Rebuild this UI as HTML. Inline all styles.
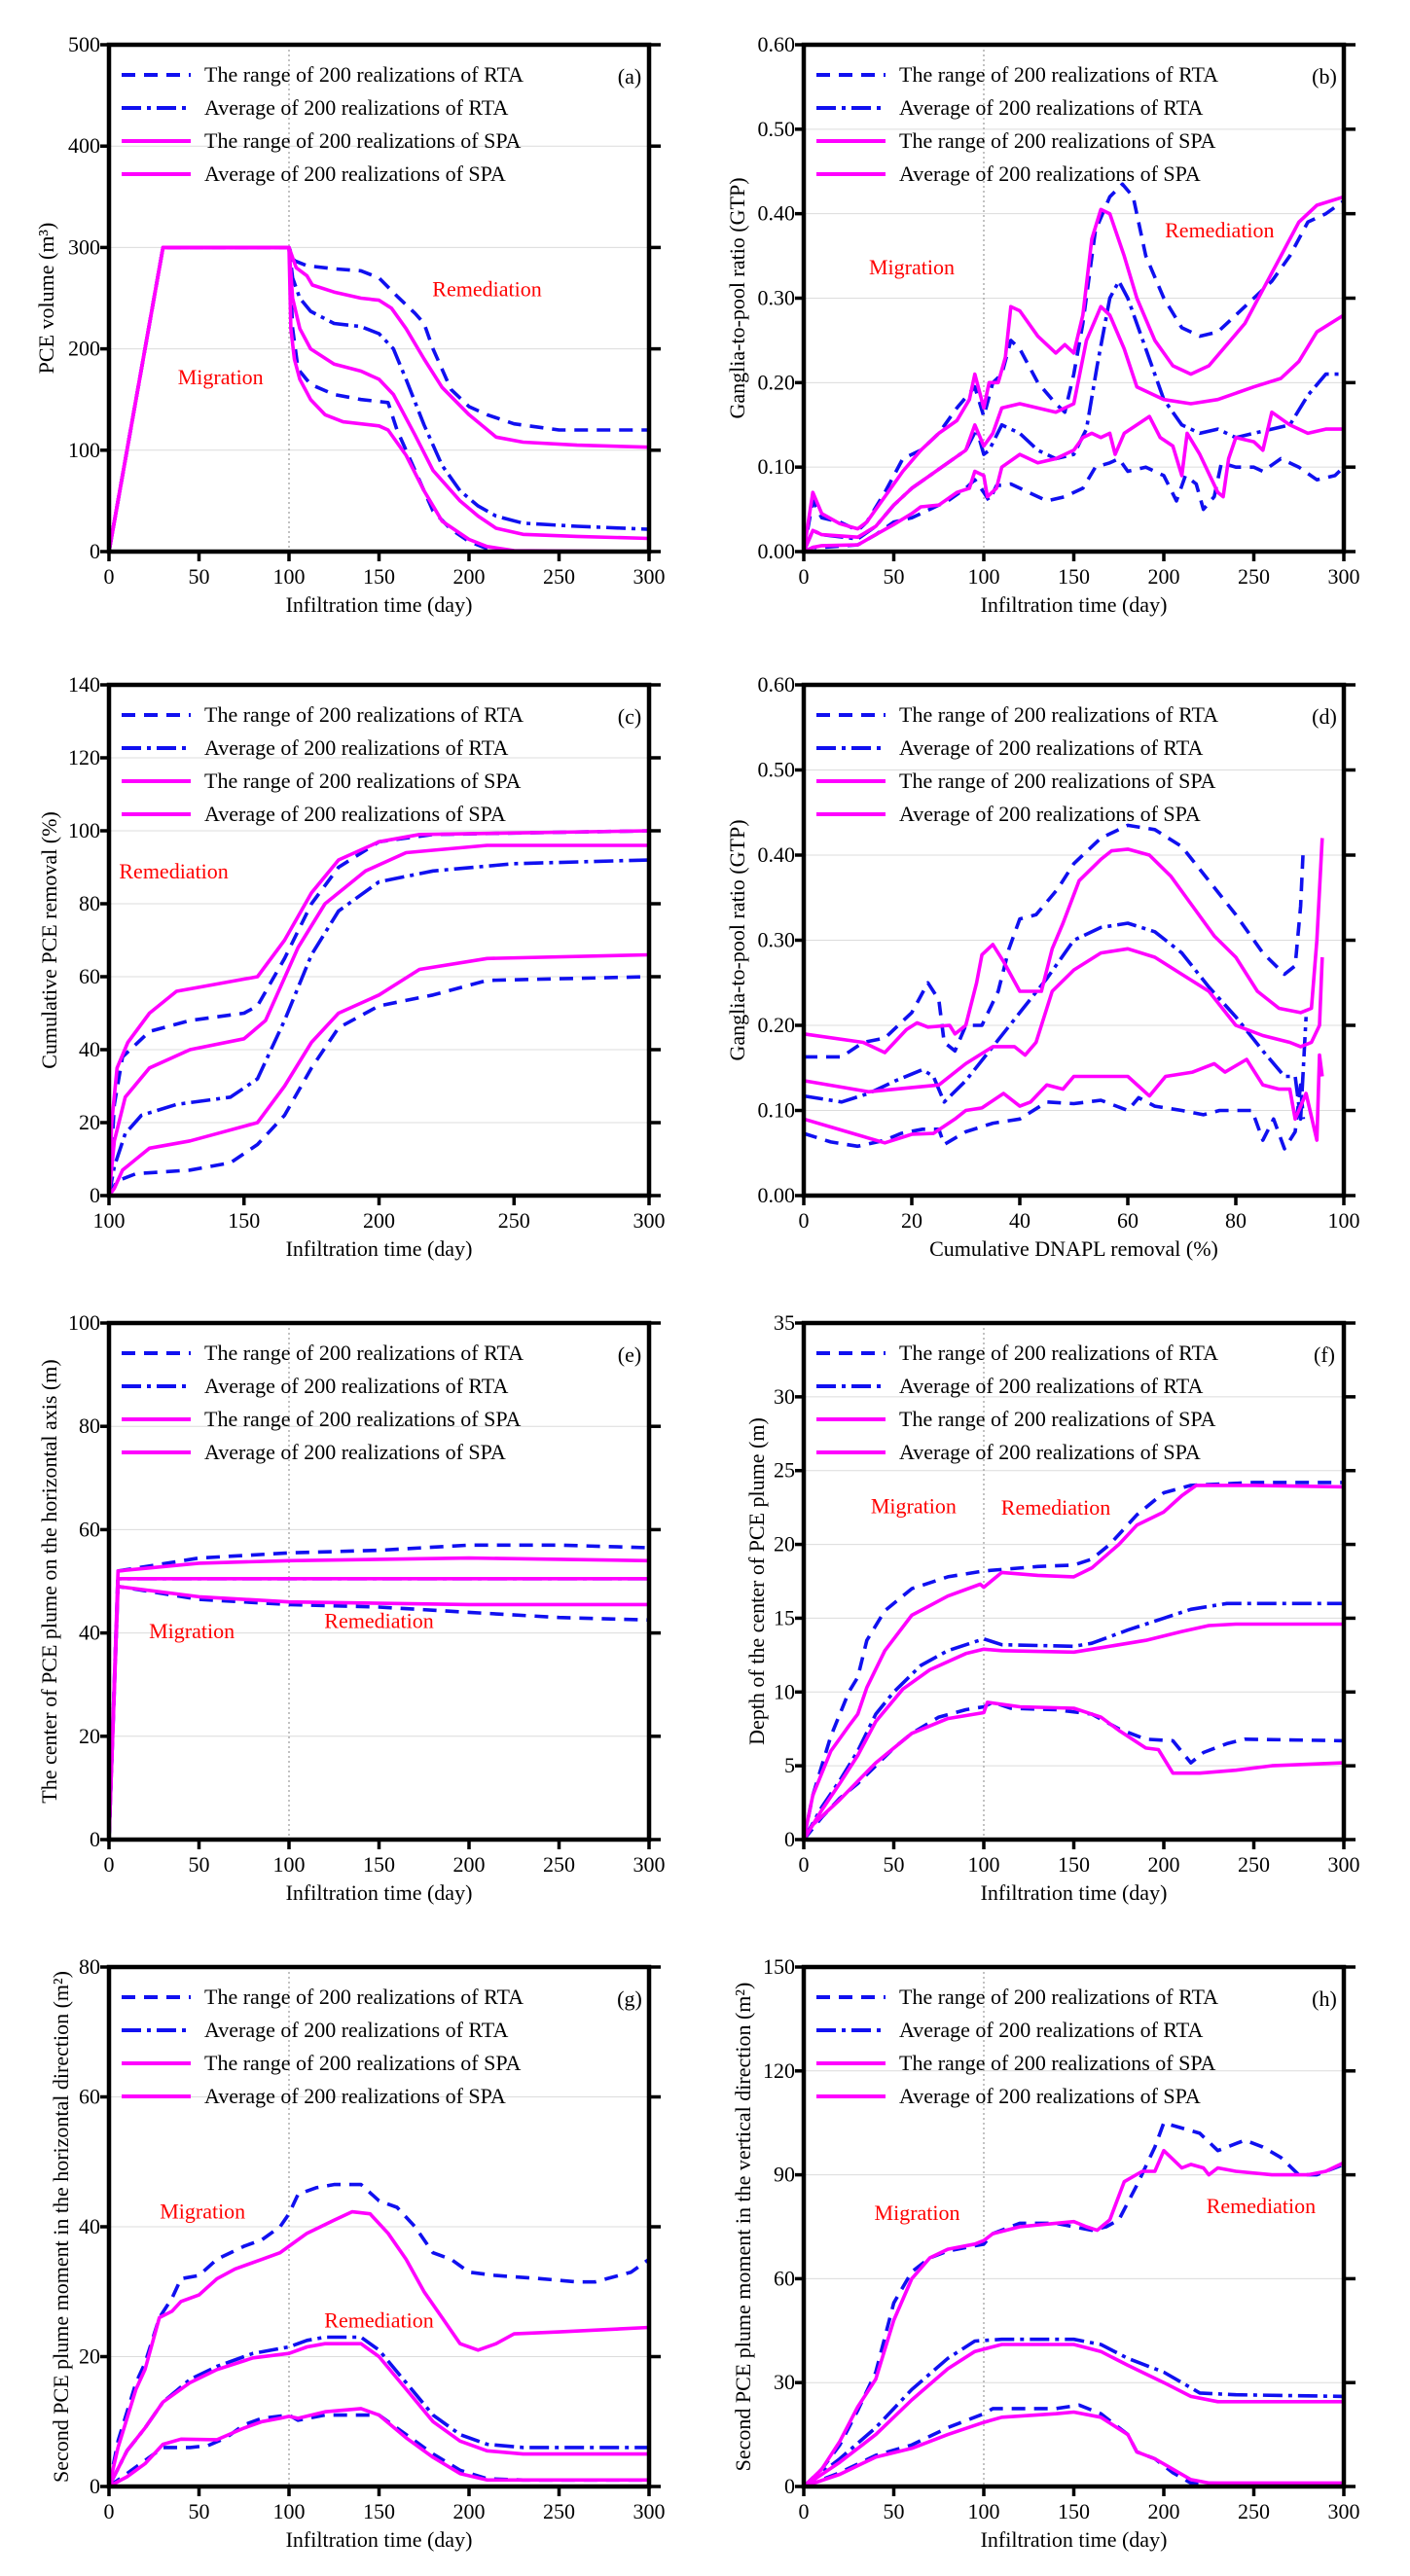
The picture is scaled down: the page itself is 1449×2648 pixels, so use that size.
<!DOCTYPE html>
<html><head><meta charset="utf-8">
<style>
html,body{margin:0;padding:0;background:#fff;}
svg{display:block;font-family:"Liberation Serif",serif;}
</style></head>
<body>
<svg id="fig" width="1449" height="2648" viewBox="0 0 1449 2648" xmlns="http://www.w3.org/2000/svg"></svg>
<script>
// ---------- Panel (a) data ----------
const aRtaUp=[[0,0],[30,300],[100,300],[103,287],[110,282],[125,279],[140,277],[150,270],[160,252],[170,235],[175,225],[180,200],[190,160],[200,143],[210,135],[225,126],[250,120],[300,120]];
const aRtaLo=[[0,0],[30,300],[100,300],[102,220],[105,180],[112,165],[125,155],[140,150],[155,147],[160,120],[170,80],[180,40],[190,22],[200,10],[210,3],[225,0],[300,0]];
const aRtaAvg=[[0,0],[30,300],[100,300],[102,270],[106,250],[112,237],[125,225],[140,222],[150,215],[158,200],[165,170],[175,125],[185,85],[195,60],[205,45],[215,35],[230,28],[260,25],[300,22]];
const aSpaUp=[[0,0],[30,300],[100,300],[104,280],[110,272],[113,263],[125,256],[140,250],[150,248],[157,240],[165,220],[175,190],[185,162],[200,135],[215,113],[230,108],[260,105],[300,103]];
const aSpaLo=[[0,0],[30,300],[100,300],[101,220],[103,190],[106,170],[112,150],[120,135],[130,128],[150,124],[155,120],[165,95],[175,60],[185,30],[200,12],[210,5],[225,1],[300,0]];
const aSpaAvg=[[0,0],[30,300],[100,300],[102,250],[106,220],[112,200],[125,185],[140,178],[150,170],[158,155],[170,115],[180,80],[195,50],[205,35],[215,23],[230,17],[260,15],[300,13]];
// ---------- Panel (b) data ----------
const bRtaUp=[[0,0],[5,0.06],[10,0.04],[20,0.035],[30,0.025],[35,0.035],[45,0.07],[55,0.11],[65,0.12],[75,0.14],[85,0.17],[95,0.195],[100,0.16],[105,0.20],[110,0.21],[115,0.25],[120,0.24],[130,0.20],[140,0.175],[145,0.165],[150,0.21],[155,0.27],[162,0.38],[170,0.42],[177,0.435],[183,0.42],[190,0.35],[200,0.3],[210,0.265],[220,0.255],[230,0.26],[240,0.28],[250,0.3],[260,0.32],[270,0.35],[280,0.39],[290,0.4],[300,0.415]];
const bRtaLo=[[0,0],[5,0.005],[10,0.005],[30,0.008],[40,0.02],[50,0.035],[60,0.04],[70,0.05],[80,0.06],[90,0.075],[95,0.085],[100,0.07],[103,0.06],[107,0.078],[115,0.08],[125,0.07],[135,0.06],[145,0.065],[155,0.075],[162,0.10],[170,0.105],[175,0.11],[180,0.095],[190,0.1],[200,0.09],[207,0.06],[212,0.09],[218,0.08],[222,0.05],[228,0.065],[232,0.105],[240,0.1],[250,0.1],[255,0.095],[265,0.11],[275,0.1],[285,0.085],[295,0.09],[300,0.1]];
const bRtaAvg=[[0,0],[5,0.025],[10,0.02],[30,0.015],[40,0.03],[50,0.055],[60,0.075],[70,0.09],[80,0.105],[90,0.12],[96,0.145],[100,0.115],[103,0.12],[110,0.15],[120,0.14],[130,0.12],[140,0.11],[150,0.115],[157,0.145],[163,0.22],[170,0.3],[175,0.32],[180,0.3],[190,0.24],[200,0.18],[210,0.15],[220,0.14],[230,0.145],[240,0.135],[250,0.14],[260,0.145],[270,0.15],[280,0.185],[290,0.21],[300,0.21]];
const bSpaUp=[[0,0],[5,0.07],[10,0.045],[20,0.033],[30,0.027],[35,0.035],[45,0.065],[55,0.095],[65,0.12],[75,0.14],[85,0.155],[92,0.18],[95,0.21],[100,0.17],[103,0.2],[108,0.2],[112,0.23],[115,0.29],[120,0.285],[130,0.255],[140,0.235],[145,0.245],[150,0.235],[155,0.28],[160,0.37],[165,0.405],[170,0.4],[178,0.35],[185,0.3],[195,0.25],[205,0.22],[215,0.21],[225,0.22],[235,0.245],[245,0.27],[255,0.31],[265,0.35],[275,0.39],[285,0.41],[300,0.42]];
const bSpaLo=[[0,0],[5,0.005],[10,0.007],[30,0.008],[40,0.02],[50,0.032],[60,0.045],[65,0.053],[75,0.055],[85,0.07],[92,0.075],[95,0.095],[100,0.09],[102,0.065],[107,0.075],[110,0.1],[120,0.115],[130,0.105],[140,0.11],[150,0.12],[155,0.135],[160,0.14],[165,0.135],[170,0.14],[173,0.115],[178,0.14],[185,0.15],[192,0.16],[198,0.135],[205,0.125],[210,0.09],[213,0.14],[220,0.115],[230,0.07],[233,0.065],[236,0.11],[240,0.135],[250,0.13],[255,0.12],[260,0.165],[270,0.15],[280,0.14],[290,0.145],[300,0.145]];
const bSpaAvg=[[0,0],[5,0.025],[10,0.02],[30,0.017],[40,0.03],[50,0.055],[60,0.075],[70,0.09],[80,0.105],[90,0.12],[95,0.15],[100,0.125],[105,0.14],[110,0.17],[120,0.175],[130,0.17],[140,0.165],[150,0.175],[157,0.25],[165,0.29],[170,0.28],[178,0.24],[185,0.195],[200,0.18],[215,0.175],[230,0.18],[250,0.195],[265,0.205],[275,0.225],[285,0.26],[300,0.28]];
// ---------- Panel (c) data ----------
const cRtaUp=[[100,0],[102,25],[105,38],[115,45],[130,48],[150,50],[155,52],[165,65],[175,80],[185,90],[200,97],[220,99],[300,100]];
const cRtaLo=[[100,0],[103,4],[110,6],[130,7],[145,9],[155,14],[165,22],[175,35],[185,46],[200,52],[220,55],[240,59],[300,60]];
const cRtaAvg=[[100,0],[102,8],[106,17],[112,22],[125,25],[145,27],[155,32],[165,48],[175,66],[185,78],[200,86],[220,89],[250,91],[300,92]];
const cSpaUp=[[100,0],[101,20],[103,35],[107,42],[115,50],[125,56],[140,58],[155,60],[165,70],[175,83],[185,92],[200,97],[215,99],[300,100]];
const cSpaLo=[[100,0],[102,2],[105,7],[110,10],[115,13],[130,15],[140,17],[155,20],[165,30],[175,42],[185,50],[200,55],[215,62],[240,65],[300,66]];
const cSpaAvg=[[100,0],[102,15],[106,27],[115,35],[130,40],[150,43],[158,48],[170,68],[180,80],[195,89],[210,94],[240,96],[300,96]];
// ---------- Panel (d) data ----------
const dRtaUp=[[0,0.163],[7,0.163],[11,0.18],[15,0.185],[20,0.215],[23,0.25],[25,0.23],[26,0.18],[28,0.17],[30,0.2],[33,0.2],[36,0.24],[38,0.29],[40,0.325],[43,0.33],[47,0.36],[50,0.39],[55,0.42],[60,0.435],[65,0.43],[70,0.41],[75,0.37],[80,0.33],[85,0.285],[89,0.26],[91,0.27],[92,0.34],[92.5,0.41]];
const dRtaLo=[[0,0.073],[5,0.063],[10,0.058],[15,0.065],[18,0.073],[22,0.078],[25,0.078],[26,0.06],[30,0.075],[35,0.085],[40,0.09],[45,0.11],[50,0.108],[55,0.112],[60,0.1],[62,0.115],[65,0.105],[70,0.1],[74,0.095],[77,0.1],[80,0.1],[83,0.1],[85,0.065],[87,0.09],[89,0.055],[91,0.075],[92,0.13],[92.5,0.09]];
const dRtaAvg=[[0,0.117],[7,0.11],[12,0.12],[17,0.135],[22,0.148],[24,0.14],[26,0.11],[30,0.135],[35,0.175],[40,0.215],[45,0.255],[50,0.3],[55,0.315],[60,0.32],[65,0.31],[70,0.285],[75,0.245],[80,0.21],[85,0.17],[89,0.14],[91,0.14],[92,0.09],[93,0.21]];
const dSpaUp=[[0,0.19],[11,0.18],[15,0.168],[19,0.195],[21,0.203],[23,0.198],[27,0.2],[28,0.19],[30,0.2],[32,0.25],[33,0.283],[35,0.295],[37,0.275],[40,0.24],[42,0.24],[44,0.24],[46,0.29],[48,0.32],[51,0.37],[55,0.395],[57,0.405],[60,0.407],[64,0.4],[68,0.375],[72,0.34],[76,0.305],[80,0.28],[84,0.24],[88,0.22],[92,0.215],[94,0.22],[95,0.3],[96,0.42]];
const dSpaLo=[[0,0.09],[8,0.075],[15,0.062],[20,0.072],[24,0.073],[28,0.09],[30,0.1],[33,0.103],[37,0.12],[40,0.105],[42,0.11],[45,0.13],[48,0.125],[50,0.14],[55,0.14],[60,0.14],[64,0.117],[67,0.14],[72,0.145],[76,0.155],[78,0.145],[82,0.16],[85,0.13],[88,0.125],[90,0.125],[91,0.09],[93,0.12],[95,0.065],[95.5,0.165],[96,0.14]];
const dSpaAvg=[[0,0.135],[12,0.122],[20,0.127],[25,0.13],[30,0.155],[35,0.175],[39,0.175],[41,0.165],[43,0.18],[46,0.24],[50,0.265],[55,0.285],[60,0.29],[65,0.28],[70,0.26],[75,0.24],[80,0.2],[85,0.188],[90,0.18],[92,0.175],[94,0.18],[95.5,0.2],[96,0.28]];
// ---------- Panel (e) data ----------
const eRtaUp=[[0,0],[5,52],[50,54.5],[100,55.5],[150,56],[200,57],[250,57],[300,56.5]];
const eRtaLo=[[0,0],[5,49],[50,46.5],[100,45.5],[150,45],[200,44],[250,43],[300,42.5]];
const eRtaAvg=[[0,0],[5,50.5],[300,50.5]];
const eSpaUp=[[0,0],[5,52],[50,53.5],[100,54],[200,54.5],[300,54]];
const eSpaLo=[[0,0],[5,49],[50,47],[100,46],[200,45.5],[300,45.5]];
const eSpaAvg=[[0,0],[5,50.5],[300,50.5]];
// ---------- Panel (f) data ----------
const fRtaUp=[[0,0],[5,3],[15,7],[25,10],[30,11],[35,13.5],[45,15.5],[60,17],[80,17.8],[100,18.2],[130,18.5],[150,18.6],[160,19],[170,20],[185,22],[200,23.5],[215,24],[250,24.2],[300,24.2]];
const fRtaLo=[[0,0],[10,1.5],[20,2.8],[30,3.8],[40,5],[50,6.2],[60,7.2],[75,8.3],[90,8.8],[100,9],[105,9.3],[115,8.9],[140,8.8],[160,8.5],[175,7.5],[190,6.8],[205,6.7],[215,5.2],[222,5.9],[235,6.5],[245,6.8],[300,6.7]];
const fRtaAvg=[[0,0],[10,2.2],[20,4],[30,6],[40,8.5],[50,10],[65,11.8],[80,12.8],[100,13.6],[110,13.2],[150,13.1],[160,13.3],[180,14.2],[200,15],[215,15.6],[235,16],[300,16]];
const fSpaUp=[[0,0],[5,3],[15,6],[25,7.7],[30,8.5],[35,10.3],[45,12.8],[60,15.2],[80,16.5],[98,17.3],[100,17.1],[110,18.1],[130,17.9],[150,17.8],[160,18.4],[175,20],[185,21.3],[200,22.2],[210,23.3],[218,24],[250,24],[300,23.9]];
const fSpaLo=[[0,0],[5,1],[20,2.7],[40,5.2],[60,7.2],[80,8.2],[100,8.6],[102,9.3],[120,9],[150,8.9],[165,8.3],[175,7.4],[190,6.2],[197,6.1],[205,4.5],[220,4.5],[240,4.7],[260,5],[300,5.2]];
const fSpaAvg=[[0,0],[10,2],[20,3.8],[30,5.7],[40,8],[55,10.2],[70,11.5],[90,12.6],[100,12.9],[110,12.8],[150,12.7],[165,13],[190,13.5],[210,14.1],[225,14.5],[240,14.6],[300,14.6]];
// ---------- Panel (g) data ----------
const gRtaUp=[[0,0],[5,7],[15,16],[20,19],[28,26],[35,29],[40,32],[50,32.5],[60,35],[75,37],[85,38],[95,40],[100,42],[105,45],[115,46],[125,46.5],[140,46.5],[150,44],[160,43],[170,40],[180,36],[190,35],[200,33],[215,32.5],[240,32],[260,31.5],[270,31.5],[290,33],[300,35]];
const gRtaLo=[[0,0],[10,2],[20,4],[30,6],[45,6],[55,6.3],[65,7.5],[75,9.5],[85,10.5],[100,11],[105,10.2],[120,11],[150,11],[165,8],[180,5],[195,2.5],[210,1.2],[230,1],[300,1]];
const gRtaAvg=[[0,0],[10,5.5],[20,9],[30,13],[45,16.5],[60,18.5],[80,20.5],[100,21.5],[110,22.5],[120,23],[140,23],[150,21],[165,16],[180,11],[195,8],[210,6.5],[230,6],[300,6]];
const gSpaUp=[[0,0],[5,6],[15,15],[20,18],[28,26],[35,27],[40,28.5],[50,29.5],[60,32],[70,33.5],[85,35],[95,36],[100,37],[110,39],[125,41],[135,42.3],[145,42],[155,39],[165,35],[175,30],[185,26],[195,22],[205,21],[215,22],[225,23.5],[250,23.8],[300,24.5]];
const gSpaLo=[[0,0],[10,1.5],[20,3.5],[30,6.5],[40,7.3],[60,7.2],[75,9],[85,10],[95,10.5],[100,10.8],[105,10.5],[120,11.5],[140,12],[150,11],[165,7.5],[180,4.5],[195,2],[210,1],[300,1]];
const gSpaAvg=[[0,0],[10,5.5],[20,9],[30,13],[45,16],[60,18],[80,19.8],[100,20.5],[110,21.5],[120,22],[140,22],[150,20],[165,15],[180,10],[195,7],[210,5.5],[230,5],[300,5]];
// ---------- Panel (h) data ----------
const hRtaUp=[[0,0],[10,5],[20,12],[30,22],[40,33],[50,53],[60,62],[70,66],[80,68],[90,69],[100,70],[105,73],[120,76],[140,76],[150,75],[160,74],[168,75],[175,77],[185,87],[195,98],[200,105],[220,102],[230,97],[245,100],[255,98],[265,95],[275,90],[285,90],[300,93]];
const hRtaLo=[[0,0],[20,4],[40,9],[60,12],[80,17],[100,21],[105,22.5],[140,22.5],[153,23.5],[165,21],[180,15],[185,10],[195,8],[205,4],[215,1],[300,0.5]];
const hRtaAvg=[[0,0],[20,8],[40,17],[60,28],[80,37],[95,42],[110,42.5],[150,42.5],[165,41],[180,37],[200,33],[220,27],[240,26.5],[300,26]];
const hSpaUp=[[0,0],[10,5],[20,13],[30,23],[40,31],[50,48],[60,60],[70,66],[80,68.5],[95,70],[100,71],[105,73],[120,75],[140,76],[150,76.5],[157,75],[163,74],[170,77],[178,88],[188,91],[195,91],[200,97],[210,92],[215,93],[222,92],[225,90],[230,92],[240,91],[260,90],[280,90],[290,91],[300,93.5]];
const hSpaLo=[[0,0],[20,3.5],[40,8.5],[60,11],[80,15],[100,18.5],[110,20],[140,21],[150,21.5],[165,20],[180,15],[185,10],[195,8],[205,5],[215,2],[225,1],[300,1]];
const hSpaAvg=[[0,0],[20,7],[40,15],[60,25],[80,34],[95,39],[110,41],[150,41],[165,39],[180,35],[200,30],[215,26],[230,24.5],[300,24.5]];
// ---------- tick labels ----------
const ticksDay=[0,50,100,150,200,250,300];
const ticksDayC=[100,150,200,250,300];
const ticksPct=[0,20,40,60,80,100];
const ticksA=[0,100,200,300,400,500];
const ticksGTP=[0,0.1,0.2,0.3,0.4,0.5,0.6];
const ticksC=[0,20,40,60,80,100,120,140];
const ticksE=[0,20,40,60,80,100];
const ticksF=[0,5,10,15,20,25,30,35];
const ticksG=[0,20,40,60,80];
const ticksH=[0,30,60,90,120,150];
const legendLabels=["The range of 200 realizations of RTA","Average of 200 realizations of RTA","The range of 200 realizations of SPA","Average of 200 realizations of SPA"];

const NS="http://www.w3.org/2000/svg";
const svg=document.getElementById('fig');
const BLUE="#1010f0", MAG="#ff00ff";
function mk(tag,attrs,parent){const e=document.createElementNS(NS,tag);for(const k in attrs)e.setAttribute(k,attrs[k]);(parent||svg).appendChild(e);return e;}

const L=[112,826], W=555;
const TOPS=[46,704,1360,2022];
const HS=[521,525,531,534];

const panels=[
 {id:'a',col:0,row:0,xd:[0,300],yd:[0,500],xt:ticksDay,yt:ticksA,yfmt:v=>String(v),ytitle:'PCE volume (m³)',xtitle:'Infiltration time (day)',vline:true,ytx:50,
  s:[aRtaUp,aRtaLo,aRtaAvg,aSpaUp,aSpaLo,aSpaAvg],labels:[['Migration',62,165],['Remediation',210,252]]},
 {id:'b',col:1,row:0,xd:[0,300],yd:[0,0.6],xt:ticksDay,yt:ticksGTP,yfmt:v=>v.toFixed(2),ytitle:'Ganglia-to-pool ratio (GTP)',xtitle:'Infiltration time (day)',vline:true,ytx:760,
  s:[bRtaUp,bRtaLo,bRtaAvg,bSpaUp,bSpaLo,bSpaAvg],labels:[['Migration',60,0.328],['Remediation',231,0.372]]},
 {id:'c',col:0,row:1,xd:[100,300],yd:[0,140],xt:ticksDayC,yt:ticksC,yfmt:v=>String(v),ytitle:'Cumulative PCE removal (%)',xtitle:'Infiltration time (day)',vline:false,ytx:53,
  s:[cRtaUp,cRtaLo,cRtaAvg,cSpaUp,cSpaLo,cSpaAvg],labels:[['Remediation',124,87]]},
 {id:'d',col:1,row:1,xd:[0,100],yd:[0,0.6],xt:ticksPct,yt:ticksGTP,yfmt:v=>v.toFixed(2),ytitle:'Ganglia-to-pool ratio (GTP)',xtitle:'Cumulative DNAPL removal (%)',vline:false,ytx:760,
  s:[dRtaUp,dRtaLo,dRtaAvg,dSpaUp,dSpaLo,dSpaAvg],labels:[]},
 {id:'e',col:0,row:2,xd:[0,300],yd:[0,100],xt:ticksDay,yt:ticksE,yfmt:v=>String(v),ytitle:'The center of PCE plume on  the horizontal axis (m)',xtitle:'Infiltration time (day)',vline:true,ytx:53,
  s:[eRtaUp,eRtaLo,eRtaAvg,eSpaUp,eSpaLo,eSpaAvg],labels:[['Migration',46,39],['Remediation',150,41]]},
 {id:'f',col:1,row:2,xd:[0,300],yd:[0,35],xt:ticksDay,yt:ticksF,yfmt:v=>String(v),ytitle:'Depth of the center of PCE plume (m)',xtitle:'Infiltration time (day)',vline:true,ytx:780,
  s:[fRtaUp,fRtaLo,fRtaAvg,fSpaUp,fSpaLo,fSpaAvg],labels:[['Migration',61,22.1],['Remediation',140,22.0]]},
 {id:'g',col:0,row:3,xd:[0,300],yd:[0,80],xt:ticksDay,yt:ticksG,yfmt:v=>String(v),ytitle:'Second PCE plume moment in the horizontal direction (m²)',xtitle:'Infiltration time (day)',vline:true,ytx:65,
  s:[gRtaUp,gRtaLo,gRtaAvg,gSpaUp,gSpaLo,gSpaAvg],labels:[['Migration',52,41.3],['Remediation',150,24.5]]},
 {id:'h',col:1,row:3,xd:[0,300],yd:[0,150],xt:ticksDay,yt:ticksH,yfmt:v=>String(v),ytitle:'Second PCE plume moment in the vertical direction (m²)',xtitle:'Infiltration time (day)',vline:true,ytx:766,
  s:[hRtaUp,hRtaLo,hRtaAvg,hSpaUp,hSpaLo,hSpaAvg],labels:[['Migration',63,77],['Remediation',254,79]]}
];
const styles=[
 {c:BLUE,d:'14 9'},{c:BLUE,d:'14 9'},{c:BLUE,d:'20 6 4 6'},
 {c:MAG,d:''},{c:MAG,d:''},{c:MAG,d:''}];
const snames=['rta-range-upper','rta-range-lower','rta-average','spa-range-upper','spa-range-lower','spa-average'];

panels.forEach(p=>{
  const H=HS[p.row];
  const x0=L[p.col], y0=TOPS[p.row], x1=x0+W, y1=y0+H;
  const sx=v=>x0+(v-p.xd[0])/(p.xd[1]-p.xd[0])*W;
  const sy=v=>y1-(v-p.yd[0])/(p.yd[1]-p.yd[0])*H;
  const g=mk('g',{});
  
  
  p.yt.forEach(v=>{ if(v!==p.yd[0]&&v!==p.yd[1]){const l=mk('line',{x1:x0,x2:x1,y1:sy(v),y2:sy(v),stroke:'#dcdcdc','stroke-width':1},g);
    
    }});
  if(p.vline){const vl=mk('line',{x1:sx(100),x2:sx(100),y1:y0,y2:y1,stroke:'#999','stroke-width':1.2,'stroke-dasharray':'2 3'},g);
    
    }
  [0,1,2,3,4,5].forEach(i=>{
    const pts=p.s[i].map(q=>sx(q[0]).toFixed(1)+','+sy(q[1]).toFixed(1)).join(' ');
    const pl=mk('polyline',{points:pts,fill:'none',stroke:styles[i].c,'stroke-width':3.6,'stroke-linejoin':'round'},g);
    if(styles[i].d)pl.setAttribute('stroke-dasharray',styles[i].d);
    
    
  });
  const fr=mk('rect',{x:x0,y:y0,width:W,height:H,fill:'none',stroke:'#000','stroke-width':4.5},g);
  
  
  p.yt.forEach(v=>{
    mk('line',{x1:x0-9,x2:x0,y1:sy(v),y2:sy(v),stroke:'#000','stroke-width':3.5},g);
    mk('line',{x1:x1,x2:x1+12,y1:sy(v),y2:sy(v),stroke:'#000','stroke-width':3.5},g);
    const t=mk('text',{x:x0-9,y:sy(v)+7,'text-anchor':'end','font-size':22},g);
    t.textContent=p.yfmt(v);
    
    
  });
  p.xt.forEach(v=>{
    mk('line',{x1:sx(v),x2:sx(v),y1:y1,y2:y1+10,stroke:'#000','stroke-width':3.5},g);
    const t=mk('text',{x:sx(v),y:y1+33,'text-anchor':'middle','font-size':22},g);
    t.textContent=String(v);
    
    
  });
  const xt=mk('text',{x:(x0+x1)/2,y:y1+62,'text-anchor':'middle','font-size':22},g);
  xt.textContent=p.xtitle;
  
  
  const yc=(y0+y1)/2;
  const yt=mk('text',{x:p.ytx,y:yc,'text-anchor':'middle','font-size':22,transform:'rotate(-90 '+p.ytx+' '+yc+')','dominant-baseline':'middle'},g);
  yt.textContent=p.ytitle;
  
  
  for(let i=0;i<4;i++){
    const ly=y0+31+i*34;
    const st=[styles[0],styles[2],styles[3],styles[5]][i];
    const ln=mk('line',{x1:x0+13,x2:x0+84,y1:ly,y2:ly,stroke:st.c,'stroke-width':4},g);
    if(st.d)ln.setAttribute('stroke-dasharray',st.d);
    
    
    const t=mk('text',{x:x0+98,y:ly+7,'font-size':22},g);
    t.textContent=legendLabels[i];
    
    
  }
  const pl=mk('text',{x:x0+535,y:y0+40,'text-anchor':'middle','font-size':22},g);
  pl.textContent='('+p.id+')';
  
  
  p.labels.forEach(lb=>{
    const t=mk('text',{x:sx(lb[1]),y:sy(lb[2]),'text-anchor':'middle','font-size':22,fill:'#ff0000'},g);
    t.textContent=lb[0];
    
    
  });
});
</script>
</body></html>
